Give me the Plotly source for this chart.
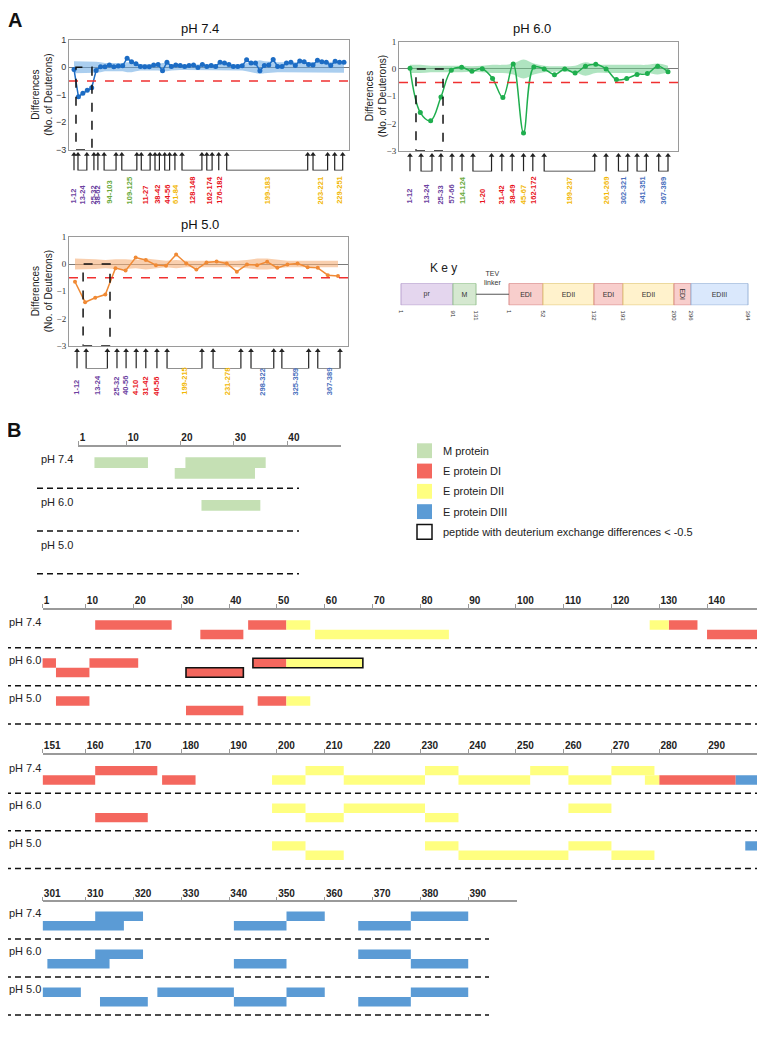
import plotly.graph_objects as go

W, H = 765, 1050
OFF = 8                      # page offset of the plot div (body margin)
FW, FH = W - OFF, H - 2 * OFF

# ---------------- data: panel A (HDX differences) ----------------
PH74_DIFF = [-0.08, -1.07, -0.95, -0.84, -0.75, -0.12, 0.02, 0.02, 0.08, 0.02,
             0.04, 0.05, 0.33, 0.20, 0.13, 0.03, 0.02, 0.02, 0.08, 0.10,
             -0.13, 0.18, 0.03, 0.08, 0.06, 0.03, 0.06, 0.08, -0.01, 0.10,
             0.03, 0.06, 0.03, 0.18, 0.15, 0.10, 0.03, 0.03, 0.05, 0.27,
             0.15, 0.15, -0.13, 0.06, 0.08, 0.28, 0.03, 0.03, 0.15, 0.18,
             0.06, 0.23, 0.20, 0.10, 0.08, 0.25, 0.20, 0.18, 0.06, 0.22,
             0.18, 0.18]
PH74_BAND = [0.22, 0.22, 0.20, 0.20, 0.20, 0.20, 0.18, 0.15, 0.15, 0.15,
             0.15, 0.15, 0.18, 0.18, 0.15, 0.12, 0.12, 0.12, 0.12, 0.12,
             0.15, 0.15, 0.12, 0.10, 0.10, 0.10, 0.10, 0.10, 0.10, 0.10,
             0.10, 0.10, 0.10, 0.10, 0.12, 0.12, 0.12, 0.12, 0.12, 0.15,
             0.18, 0.20, 0.25, 0.22, 0.20, 0.20, 0.18, 0.18, 0.18, 0.20,
             0.20, 0.20, 0.20, 0.20, 0.18, 0.18, 0.20, 0.20, 0.20, 0.20,
             0.20, 0.20]
PH60_DIFF = [0.03, -1.60, -1.90, -1.03, -0.05, 0.06, -0.08, 0.01, -0.35, -1.05,
             0.18, -2.35, 0.07, 0.00, -0.21, 0.00, -0.15, 0.10, 0.17, 0.00,
             -0.39, -0.35, -0.20, -0.17, 0.10, -0.10]
PH60_BAND = [0.15, 0.15, 0.12, 0.12, 0.12, 0.12, 0.10, 0.12, 0.15, 0.15,
             0.20, 0.35, 0.20, 0.12, 0.10, 0.10, 0.12, 0.25, 0.15, 0.15,
             0.15, 0.15, 0.15, 0.15, 0.20, 0.12]
PH50_DIFF = [-0.65, -1.40, -1.24, -1.12, -0.15, -0.24, 0.24, 0.15, -0.04, -0.06,
             0.35, 0.02, -0.20, 0.06, 0.09, 0.02, -0.28, -0.02, -0.04, 0.08,
             -0.14, -0.02, 0.02, -0.12, -0.14, -0.41, -0.44]
PH50_BAND = [0.20, 0.20, 0.18, 0.15, 0.18, 0.18, 0.15, 0.20, 0.15, 0.12,
             0.15, 0.12, 0.12, 0.12, 0.12, 0.12, 0.12, 0.15, 0.20, 0.20,
             0.15, 0.12, 0.12, 0.12, 0.12, 0.12, 0.12]

# peptide groups: (label, arrow positions in peptide-index units, colour key)
PH74_GROUPS = [("1-12", [0.0], "P"), ("13-24", [0.9, 2.9], "P"), ("25-32", [4.5], "P"),
               ("38-62", [5.4], "P"), ("94-103", [6.8, 9.5], "G"), ("109-125", [10.8, 14.2], "G"),
               ("11-27", [15.2, 17.2], "R"), ("38-42", [18.3, 19.3], "R"), ("44-56", [20.5, 21.6], "R"),
               ("61-84", [22.8], "Y"), ("128-148", [24.4, 28.9], "R"), ("162-174", [30.0, 31.2], "R"),
               ("176-182", [32.7], "R"), ("199-183", [34.5, 52.8], "Y"), ("203-221", [54.0, 57.3], "Y"),
               ("229-251", [58.9, 60.7], "Y")]
PH60_GROUPS = [("1-12", [0.0], "P"), ("13-24", [1.07, 2.13], "P"), ("25-33", [3.0], "P"),
               ("57-66", [4.07], "P"), ("114-124", [5.04], "G"), ("1-20", [6.1, 7.9], "R"),
               ("31-42", [8.9], "R"), ("38-49", [9.9], "R"), ("45-67", [11.0], "Y"),
               ("162-172", [11.9], "R"), ("199-237", [13.0, 17.9], "Y"), ("261-269", [19.0], "Y"),
               ("302-321", [20.2, 21.1], "B"), ("341-351", [22.0, 22.9], "B"), ("367-389", [24.1, 25.0], "B")]
PH50_GROUPS = [("1-12", [0.2], "P"), ("13-24", [1.1, 3.2], "P"), ("25-32", [4.15], "P"),
               ("40-56", [5.05], "P"), ("4-10", [6.05], "R"), ("31-42", [7.0], "R"),
               ("46-56", [8.1], "R"), ("199-215", [9.1, 12.55], "Y"), ("231-278", [13.65, 16.4], "Y"),
               ("298-322", [17.4, 19.65], "B"), ("325-359", [20.45, 23.1], "B"), ("367-389", [24.0, 26.2], "B")]

# dashed boxes (peptide-index range) marking differences < -0.5
PH74_BOX = (0.45, 4.06)
PH60_BOX = (0.58, 3.2)
PH50_BOX = (0.8, 3.46)

LABEL_COLORS = {"P": "#6b3fa0", "G": "#6aaa3c", "R": "#e8131b", "Y": "#f2b705", "B": "#4a70bd"}

# ---------------- data: key ----------------
KEY_SEGMENTS = [("pr", 52, "pr"), ("M", 23, "M"), ("", 33, "linker"), ("EDI", 34, "EDI"),
                ("EDII", 51, "EDII"), ("EDI", 29, "EDI"), ("EDII", 51, "EDII"),
                ("EDI", 17, "EDI"), ("EDIII", 57, "EDIII")]
KEY_TICKS = ["1", "91", "131", "1", "52", "132", "193", "200", "296", "394"]

# ---------------- data: panel B (peptide coverage) ----------------
PH_LABELS = ["pH 7.4", "pH 6.0", "pH 5.0"]
# (pH index, sub-row, start residue, end residue, region)
M_BARS = [(0, 0, 4, 14, "M"), (0, 0, 21, 36, "M"), (0, 1, 19, 34, "M"), (1, 0, 24, 35, "M")]
E1_BARS = [(0, 0, 12, 28, "DI"), (0, 0, 44, 52, "DI"), (0, 0, 52, 57, "DII"), (0, 0, 128, 132, "DII"),
           (0, 0, 132, 138, "DI"), (0, 1, 34, 43, "DI"), (0, 1, 58, 86, "DII"), (0, 1, 140, 151.5, "DI"),
           (1, 0, 0.8, 3.8, "DI"), (1, 0, 10.8, 21, "DI"), (1, 0, 45, 52, "DI"), (1, 0, 52, 68, "DII"),
           (1, 1, 3.8, 10.8, "DI"), (1, 1, 31, 43, "DI"),
           (2, 0, 3.8, 10.8, "DI"), (2, 0, 46, 52, "DI"), (2, 0, 52, 57, "DII"), (2, 1, 31, 43, "DI")]
E1_HIGHLIGHT = [(1, 0, 45, 68), (1, 1, 31, 43)]
E2_BARS = [(0, 0, 162, 175, "DI"), (0, 0, 206, 214, "DII"), (0, 0, 231, 238, "DII"), (0, 0, 253, 261, "DII"),
           (0, 0, 270, 279, "DII"), (0, 1, 151, 162, "DI"), (0, 1, 176, 183, "DI"), (0, 1, 199, 206, "DII"),
           (0, 1, 214, 231, "DII"), (0, 1, 238, 253, "DII"), (0, 1, 261, 270, "DII"), (0, 1, 277, 280, "DII"),
           (0, 1, 280, 296, "DI"), (0, 1, 296, 301.4, "DIII"),
           (1, 0, 199, 206, "DII"), (1, 0, 214, 231, "DII"), (1, 0, 261, 270, "DII"),
           (1, 1, 162, 173, "DI"), (1, 1, 206, 214, "DII"), (1, 1, 231, 238, "DII"),
           (2, 0, 199, 206, "DII"), (2, 0, 231, 238, "DII"), (2, 0, 261, 270, "DII"), (2, 0, 298, 301.4, "DIII"),
           (2, 1, 206, 214, "DII"), (2, 1, 238, 261, "DII"), (2, 1, 270, 279, "DII")]
E3_BARS = [(0, 0, 312, 322, "DIII"), (0, 0, 352, 360, "DIII"), (0, 0, 378, 390, "DIII"),
           (0, 1, 301, 318, "DIII"), (0, 1, 341, 352, "DIII"), (0, 1, 367, 378, "DIII"),
           (1, 0, 312, 322, "DIII"), (1, 0, 367, 378, "DIII"),
           (1, 1, 302, 315, "DIII"), (1, 1, 341, 352, "DIII"), (1, 1, 378, 390, "DIII"),
           (2, 0, 301, 309, "DIII"), (2, 0, 325, 341, "DIII"), (2, 0, 352, 360, "DIII"), (2, 0, 378, 390, "DIII"),
           (2, 1, 313, 323, "DIII"), (2, 1, 341, 352, "DIII"), (2, 1, 367, 378, "DIII")]
M_TICKS = [1, 10, 20, 30, 40]
E1_TICKS = [1] + list(range(10, 141, 10))
E2_TICKS = [151] + list(range(160, 291, 10))
E3_TICKS = [301] + list(range(310, 391, 10))

REGION_COLORS = {"M": "#c5e0b4", "DI": "#f4675e", "DII": "#ffff80", "DIII": "#5b9bd5"}
LEGEND_B = [("M protein", "#c5e0b4", None), ("E protein DI", "#f4675e", None),
            ("E protein DII", "#ffff80", None), ("E protein DIII", "#5b9bd5", None),
            ("peptide with deuterium exchange differences < -0.5", "#ffffff", "#111111")]

# ---------------- helpers ----------------
def fx(p):
    return (p - OFF) / FW


def fy(p):
    return 1 - (p - OFF) / FH


def ax(prefix, n):
    return prefix if n == 1 else f"{prefix}{n}"


def axkey(prefix, n):
    return f"{prefix}axis" if n == 1 else f"{prefix}axis{n}"


fig = go.Figure()
shapes, annos, lay = [], [], {}
SANS = "Liberation Sans, Arial, sans-serif"
SERIF = "Liberation Serif, Times New Roman, serif"

# ---------------- panel A ----------------
PANELS = [
    dict(title="pH 7.4", diff=PH74_DIFF, band=PH74_BAND, groups=PH74_GROUPS, box=PH74_BOX,
         color="#1c6cc4", fill="rgba(100,165,225,0.55)", shape="linear", msize=5,
         x0=69, x1=349, y0=35, y1=146, first=74, last=344, bt=151, bb=167, lb=203,
         tx=200, ty=24, ytx=42, tickfam=SANS),
    dict(title="pH 6.0", diff=PH60_DIFF, band=PH60_BAND, groups=PH60_GROUPS, box=PH60_BOX,
         color="#1fae4e", fill="rgba(110,205,140,0.55)", shape="spline", msize=5,
         x0=399, x1=678, y0=37, y1=147, first=410, last=668, bt=152, bb=168, lb=203,
         tx=532, ty=24, ytx=376, tickfam=SERIF),
    dict(title="pH 5.0", diff=PH50_DIFF, band=PH50_BAND, groups=PH50_GROUPS, box=PH50_BOX,
         color="#f08a35", fill="rgba(245,175,120,0.6)", shape="linear", msize=4,
         x0=69, x1=348, y0=234, y1=344, first=75, last=338, bt=349, bb=367, lb=396,
         tx=200, ty=222, ytx=42, tickfam=SERIF),
]

for k, P in enumerate(PANELS):
    xn, yn, ybn = k + 1, 2 * k + 1, 2 * k + 2
    xr, yr, ybr = ax("x", xn), ax("y", yn), ax("y", ybn)
    n = len(P["diff"])
    step = (P["last"] - P["first"]) / (n - 1)
    lo = -(P["first"] - P["x0"]) / step
    hi = (n - 1) + (P["x1"] - P["last"]) / step
    idx = list(range(n))

    fig.add_trace(go.Scatter(x=idx, y=P["band"], mode="lines", line=dict(width=0, shape=P["shape"]),
                             xaxis=xr, yaxis=yr, hoverinfo="skip"))
    fig.add_trace(go.Scatter(x=idx, y=[-b for b in P["band"]], mode="lines",
                             line=dict(width=0, shape=P["shape"]), fill="tonexty",
                             fillcolor=P["fill"], xaxis=xr, yaxis=yr, hoverinfo="skip"))
    fig.add_trace(go.Scatter(x=idx, y=P["diff"], mode="lines+markers",
                             line=dict(color=P["color"], width=1.5, shape=P["shape"]),
                             marker=dict(size=P["msize"], color=P["color"]), xaxis=xr, yaxis=yr))

    bx, by, hx = [], [], []
    for label, pos, ck in P["groups"]:
        if len(pos) == 1:
            bx += [pos[0], pos[0], None]
            by += [1, 0, None]
        else:
            a, b = pos
            bx += [a, a, b, b, None]
            by += [1, 0, 0, 1, None]
        hx += pos
        annos.append(dict(x=sum(pos) / len(pos), xref=xr, y=fy(P["lb"]), yref="paper",
                          text=label, textangle=-90, showarrow=False, xanchor="center",
                          yanchor="bottom", font=dict(size=7.5, color=LABEL_COLORS[ck],
                                                      family=SANS, weight="bold")))
    fig.add_trace(go.Scatter(x=bx, y=by, mode="lines", line=dict(color="#222", width=1.2),
                             xaxis=xr, yaxis=ybr, cliponaxis=False, hoverinfo="skip"))
    fig.add_trace(go.Scatter(x=hx, y=[1] * len(hx), mode="markers",
                             marker=dict(symbol="triangle-up", size=5, color="#222"),
                             xaxis=xr, yaxis=ybr, cliponaxis=False, hoverinfo="skip"))

    lay[axkey("x", xn)] = dict(domain=[fx(P["x0"]), fx(P["x1"])], range=[lo, hi], anchor=yr,
                               showticklabels=False, ticks="", showgrid=False, zeroline=False,
                               showline=True, mirror=True, linecolor="#9a9a9a", linewidth=1)
    lay[axkey("y", yn)] = dict(domain=[fy(P["y1"]), fy(P["y0"])], range=[-3, 1], anchor=xr,
                               tickvals=[-3, -2, -1, 0, 1], ticks="", showgrid=False,
                               zeroline=True, zerolinecolor="#7a7a7a", zerolinewidth=1,
                               showline=True, mirror=True, linecolor="#9a9a9a", linewidth=1,
                               tickfont=dict(size=9, family=P["tickfam"], color="#333"))
    lay[axkey("y", ybn)] = dict(domain=[fy(P["bb"]), fy(P["bt"])], range=[0, 1], anchor=xr,
                                visible=False)

    shapes.append(dict(type="line", xref=f"{xr} domain", x0=0, x1=1, yref=yr, y0=-0.5, y1=-0.5,
                       line=dict(color="#f03030", width=1.5, dash="dash"), layer="above"))
    shapes.append(dict(type="rect", xref=xr, yref=yr, x0=P["box"][0], x1=P["box"][1], y0=-3, y1=0,
                       line=dict(color="#111", width=1.5, dash="dash"), layer="above"))
    annos.append(dict(x=fx(P["tx"]), y=fy(P["ty"]), xref="paper", yref="paper", text=P["title"],
                      showarrow=False, xanchor="center", yanchor="middle",
                      font=dict(size=13, family=SANS, color="#111")))
    annos.append(dict(x=fx(P["ytx"]), y=fy((P["y0"] + P["y1"]) / 2), xref="paper", yref="paper",
                      text="Differences<br>(No. of Deuterons)", textangle=-90, showarrow=False,
                      xanchor="center", yanchor="middle",
                      font=dict(size=10, family=SANS, color="#222")))

# ---------------- key ----------------
KEY_FILL = {"pr": ("#e4d6ee", "#b9a2cf"), "M": ("#d5e8d0", "#98c492"), "EDI": ("#f8cecc", "#d98a88"),
            "EDII": ("#fff2cc", "#e2c878"), "EDIII": ("#dae8fc", "#9ab4d8")}
kx, ky = ax("x", 4), ax("y", 7)
starts, bounds = [], [0]
pos = 0
for name, wdt, kind in KEY_SEGMENTS:
    starts.append(pos)
    pos += wdt
    bounds.append(pos)
seg = [(s, w, n, kd) for s, (n, w, kd) in zip(starts, KEY_SEGMENTS) if kd != "linker"]
fig.add_trace(go.Bar(orientation="h", y=[0] * len(seg), base=[s[0] for s in seg], x=[s[1] for s in seg],
                     width=1, text=[s[2] for s in seg], textposition="inside", insidetextanchor="middle",
                     textfont=dict(size=7, color="#333", family=SANS),
                     marker=dict(color=[KEY_FILL[s[3]][0] for s in seg],
                                 line=dict(color=[KEY_FILL[s[3]][1] for s in seg], width=1)),
                     xaxis=kx, yaxis=ky, cliponaxis=False, hoverinfo="skip"))
for s, (n, w, kd) in zip(starts, KEY_SEGMENTS):
    if kd == "linker":
        fig.add_trace(go.Scatter(x=[s, s + w], y=[0, 0], mode="lines", line=dict(color="#555", width=1),
                                 xaxis=kx, yaxis=ky, hoverinfo="skip"))
        annos.append(dict(x=s + w / 2, xref=kx, y=fy(276), yref="paper", text="TEV<br>linker",
                          showarrow=False, xanchor="center", yanchor="middle",
                          font=dict(size=7, color="#333", family=SANS)))
for b, t in zip(bounds, KEY_TICKS):
    annos.append(dict(x=b, xref=kx, y=fy(306), yref="paper", text=t, textangle=90, showarrow=False,
                      xanchor="center", yanchor="top", font=dict(size=6, color="#333", family=SANS)))
lay[axkey("x", 4)] = dict(domain=[fx(400), fx(749)], range=[-1, bounds[-1] + 1], anchor=ky, visible=False)
lay[axkey("y", 7)] = dict(domain=[fy(303), fy(281)], range=[-0.5, 0.5], anchor=kx, visible=False)
annos.append(dict(x=fx(443), y=fy(265), xref="paper", yref="paper", text="K e y", showarrow=False,
                  xanchor="center", yanchor="middle", font=dict(size=12, family=SANS, color="#222")))

# ---------------- panel B ----------------
SECTIONS = [
    dict(bars=M_BARS, hl=[], ticks=M_TICKS, xrange=[1, 50], px0=78.4, px1=340.6,
         axis=446, row0=462, unit=10.8, bottom=578, dx0=37, dx1=299, lx=39),
    dict(bars=E1_BARS, hl=E1_HIGHLIGHT, ticks=E1_TICKS, xrange=[1, 151.5], px0=42.6, px1=762,
         axis=611, row0=626, unit=9.6, bottom=730, dx0=5, dx1=762, lx=7),
    dict(bars=E2_BARS, hl=[], ticks=E2_TICKS, xrange=[151, 301.5], px0=42.6, px1=762,
         axis=757, row0=773, unit=9.5, bottom=876, dx0=5, dx1=762, lx=7),
    dict(bars=E3_BARS, hl=[], ticks=E3_TICKS, xrange=[301, 400.2], px0=42.6, px1=517,
         axis=906, row0=920, unit=9.6, bottom=1025, dx0=5, dx1=489, lx=7),
]
for j, S in enumerate(SECTIONS):
    xn, yn = 5 + j, 8 + j
    xr, yr = ax("x", xn), ax("y", yn)
    for region, col in REGION_COLORS.items():
        sel = [b for b in S["bars"] if b[4] == region]
        if not sel:
            continue
        fig.add_trace(go.Bar(orientation="h", y=[4 * b[0] + b[1] for b in sel],
                             base=[b[2] for b in sel], x=[b[3] - b[2] for b in sel], width=1,
                             marker=dict(color=col, line=dict(width=0)), xaxis=xr, yaxis=yr,
                             hoverinfo="skip"))
    if S["hl"]:
        fig.add_trace(go.Bar(orientation="h", y=[4 * h[0] + h[1] for h in S["hl"]],
                             base=[h[2] for h in S["hl"]], x=[h[3] - h[2] for h in S["hl"]], width=1,
                             marker=dict(color="rgba(0,0,0,0)", line=dict(color="#111", width=1.6)),
                             xaxis=xr, yaxis=yr, hoverinfo="skip"))
    lay[axkey("x", xn)] = dict(domain=[fx(S["px0"]), fx(S["px1"])], range=S["xrange"], anchor=yr,
                               side="top", showline=True, linecolor="#9a9a9a", linewidth=1.5,
                               ticks="outside", ticklen=4, tickwidth=1, tickcolor="#9a9a9a",
                               tickvals=S["ticks"], ticklabelposition="outside right",
                               tickfont=dict(size=10, weight="bold", family=SANS, color="#222"),
                               showgrid=False, zeroline=False)
    lay[axkey("y", yn)] = dict(domain=[fy(S["bottom"]), fy(S["axis"])],
                               range=[(S["bottom"] - S["row0"]) / S["unit"], (S["axis"] - S["row0"]) / S["unit"]],
                               anchor=xr, visible=False)
    for i, lab in enumerate(PH_LABELS):
        annos.append(dict(x=fx(S["lx"]), xref="paper", y=4 * i - 0.3, yref=yr, text=lab,
                          showarrow=False, xanchor="left", yanchor="middle",
                          font=dict(size=11, family=SANS, color="#222")))
        shapes.append(dict(type="line", xref="paper", x0=fx(S["dx0"]), x1=fx(S["dx1"]), yref=yr,
                           y0=4 * i + 2.4, y1=4 * i + 2.4,
                           line=dict(color="#111", width=1.5, dash="6px,4px")))

# legend for panel B
for k, (lab, col, edge) in enumerate(LEGEND_B):
    cy = 450 + 20.5 * k
    shapes.append(dict(type="rect", xref="paper", yref="paper", x0=fx(417), x1=fx(432),
                       y0=fy(cy + 7.5), y1=fy(cy - 7.5), fillcolor=col,
                       line=dict(color=edge if edge else col, width=1.5 if edge else 0)))
    annos.append(dict(x=fx(441), y=fy(cy), xref="paper", yref="paper", text=lab, showarrow=False,
                      xanchor="left", yanchor="middle", font=dict(size=11, family=SANS, color="#222")))

# panel letters
annos.append(dict(x=fx(6), y=fy(2), xref="paper", yref="paper", text="A", showarrow=False,
                  xanchor="left", yanchor="top", font=dict(size=20, family=SANS, color="#111", weight="bold")))
annos.append(dict(x=fx(5), y=fy(416), xref="paper", yref="paper", text="B", showarrow=False,
                  xanchor="left", yanchor="top", font=dict(size=20, family=SANS, color="#111", weight="bold")))

fig.update_layout(width=FW, height=FH, margin=dict(l=0, r=0, t=0, b=0), paper_bgcolor="white",
                  plot_bgcolor="rgba(0,0,0,0)", showlegend=False, barmode="overlay",
                  font=dict(family=SANS, color="#222"), shapes=shapes, annotations=annos, **lay)

fig.write_html("out.html")
